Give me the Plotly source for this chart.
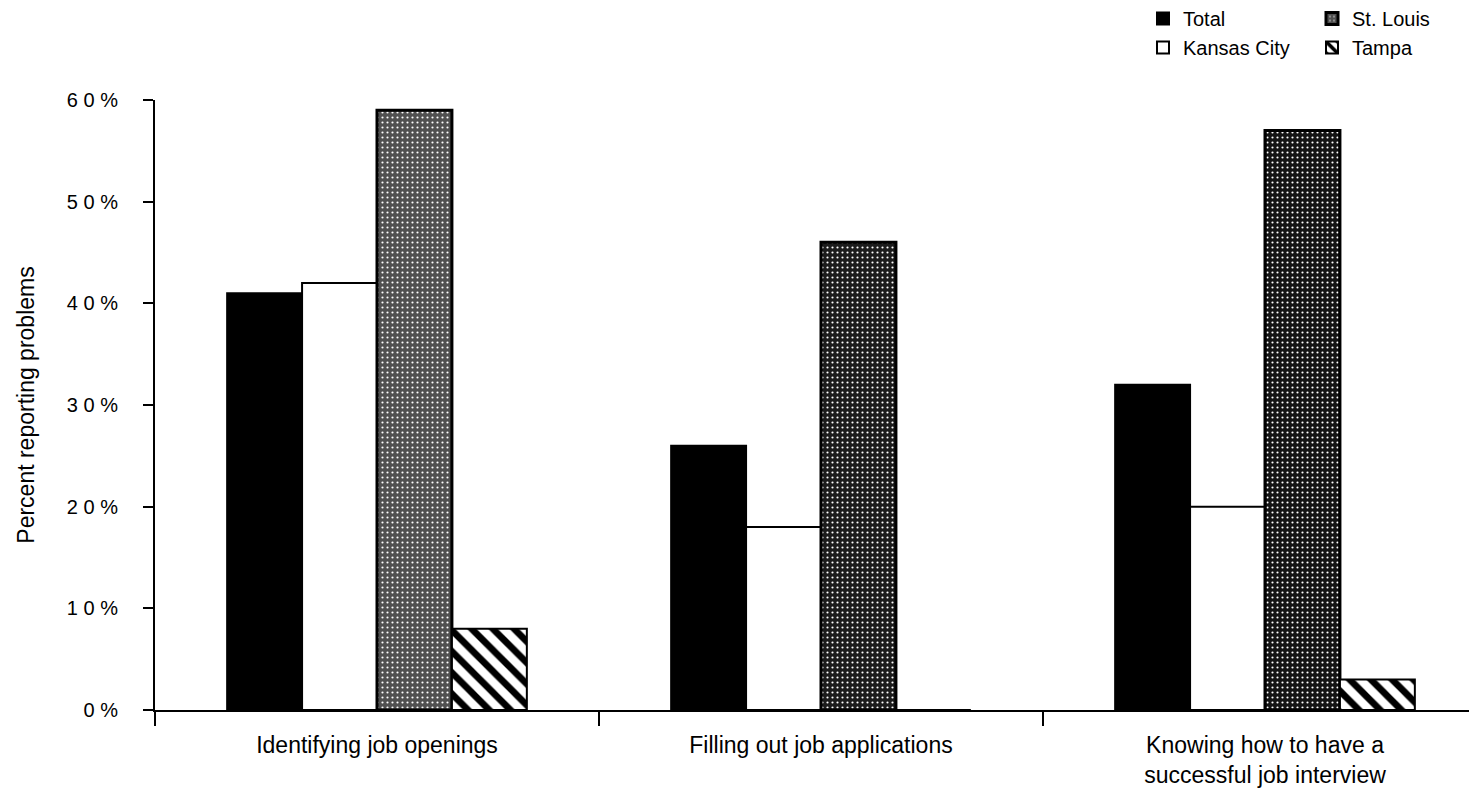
import plotly.graph_objects as go

categories = ["Identifying job openings", "Filling out job applications",
              "Knowing how to have a<br>successful job interview"]
total = [41, 26, 32]
kansas_city = [42, 18, 20]
st_louis = [59, 46, 57]
tampa = [8, 0, 3]

y_ticks = [0, 10, 20, 30, 40, 50, 60]
y_tick_text = ["0 %", "1 0 %", "2 0 %", "3 0 %", "4 0 %", "5 0 %", "6 0 %"]

FONT = "Liberation Sans, Arial, Helvetica, sans-serif"

W, H = 1469, 794
L, R, T, B = 155, 0, 100, 84

fig = go.Figure()

edge = dict(color="black", width=2)

fig.add_trace(go.Bar(
    name="Total", x=categories, y=total,
    marker=dict(color="black", line=edge),
    legend="legend",
))
fig.add_trace(go.Bar(
    name="Kansas City", x=categories, y=kansas_city,
    marker=dict(color="white", line=edge),
    legend="legend",
))
fig.add_trace(go.Bar(
    name="St. Louis", x=categories, y=st_louis,
    marker=dict(
        color=["#505050", "#1c1c1c", "#141414"],
        line=dict(color="black", width=3),
        pattern=dict(shape=".", fgcolor="#c8c8c8", fgopacity=1, size=5, solidity=0.15),
    ),
    legend="legend2",
))
fig.add_trace(go.Bar(
    name="Tampa", x=categories, y=tampa,
    marker=dict(
        color="white", line=edge,
        pattern=dict(shape="\\", fgcolor="black", bgcolor="white", fgopacity=1,
                     size=15, solidity=0.45),
    ),
    legend="legend2",
))

plot_w = W - L - R
plot_h = H - T - B
cat_px = 444.0
x_hi = -0.5 + plot_w / cat_px

legend_style = dict(
    yanchor="top", xanchor="left",
    font=dict(family=FONT, size=20, color="black"),
    bgcolor="rgba(0,0,0,0)", borderwidth=0,
    tracegroupgap=0, itemclick=False, itemdoubleclick=False,
    y=1 + (T + 1) / plot_h,
)

fig.update_layout(
    width=W, height=H,
    margin=dict(l=L, r=R, t=T, b=B, pad=0, autoexpand=False),
    paper_bgcolor="white", plot_bgcolor="white",
    barmode="group", bargap=0.325, bargroupgap=0,
    showlegend=True,
    legend=dict(x=(1143 - L) / plot_w, **legend_style),
    legend2=dict(x=(1312 - L) / plot_w, **legend_style),
    xaxis=dict(
        range=[-0.5, x_hi],
        showline=True, linecolor="black", linewidth=2,
        ticks="outside", tickson="boundaries", ticklen=14, tickwidth=2, tickcolor="black",
        ticklabelstandoff=13,
        showgrid=False, zeroline=False,
        tickfont=dict(family=FONT, size=23, color="black"),
        automargin=False,
    ),
    yaxis=dict(
        range=[0, 60],
        tickvals=y_ticks, ticktext=y_tick_text,
        showline=True, linecolor="black", linewidth=2,
        ticks="outside", ticklen=10, tickwidth=2, tickcolor="black",
        ticklabelstandoff=21,
        showgrid=False, zeroline=False,
        tickfont=dict(family=FONT, size=20, color="black"),
        title=dict(text="Percent reporting problems",
                   font=dict(family=FONT, size=23, color="black"), standoff=26),
        automargin=False,
    ),
)

fig.write_html("out.html")
